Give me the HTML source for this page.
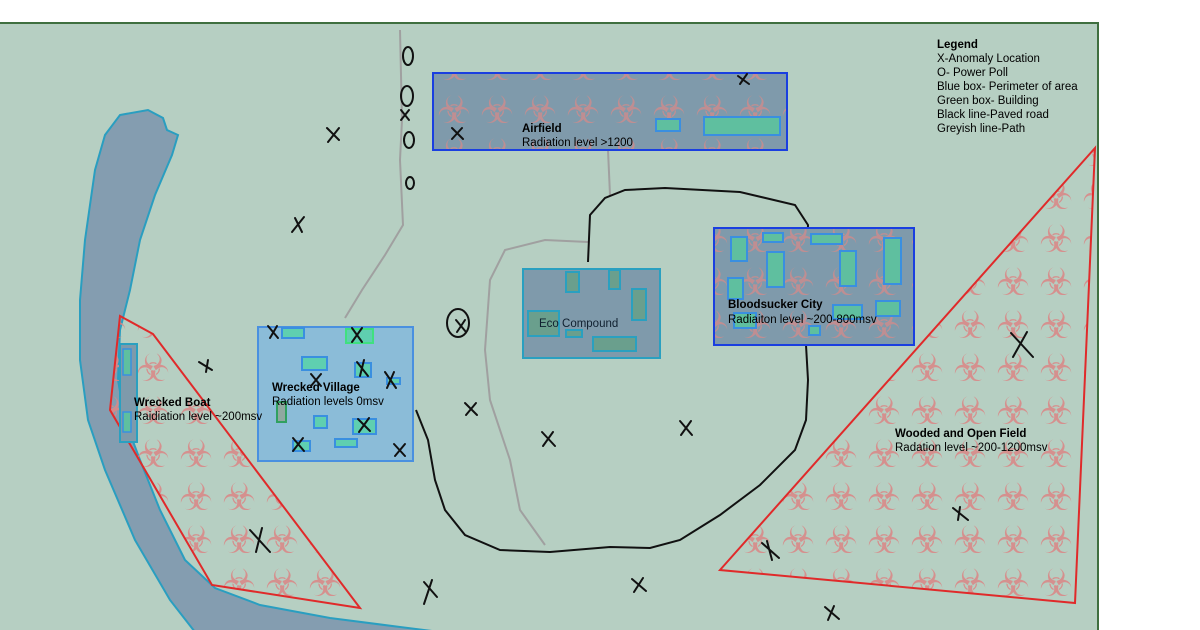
<!DOCTYPE html>
<html><head><meta charset="utf-8"><style>
html,body{margin:0;padding:0;background:#fff;}
svg{display:block;font-family:"Liberation Sans",sans-serif;}
</style></head><body>
<svg width="1200" height="630" viewBox="0 0 1200 630" xmlns="http://www.w3.org/2000/svg">
<defs>
<pattern id="bio" x="0" y="0" width="43" height="43" patternUnits="userSpaceOnUse">
<text x="24" y="37" text-anchor="middle" font-family="DejaVu Sans" font-size="38" fill="#d88a88" opacity="0.9">☣</text>
</pattern>
</defs>
<rect x="0" y="22" width="1098" height="608" fill="#b6cfc2"/>
<line x1="0" y1="23" x2="1098" y2="23" stroke="#3f6f3f" stroke-width="2"/>
<line x1="1098" y1="22" x2="1098" y2="630" stroke="#3f6f3f" stroke-width="2"/>

<path d="M120,115 L148,110 L163,118 L167,130 L178,135 L172,155 L155,195 L140,240 L130,290 L120,330 L118,380 L125,420 L140,460 L160,510 L185,560 L215,588 L260,605 L330,618 L400,627 L440,632 L195,632 L170,600 L135,540 L105,470 L88,420 L80,360 L80,300 L85,240 L95,170 L105,135 Z" fill="#849db0" stroke="#2a9ec0" stroke-width="2"/>

<polygon points="120,316 153,334 360,608 212,585 110,410" fill="url(#bio)" stroke="#e02a2a" stroke-width="2"/>
<rect x="120" y="344" width="17" height="98" fill="#7e9aab" stroke="#2aa0c0" stroke-width="2"/>
<rect x="123" y="349" width="8" height="26" fill="#5fbf9f" stroke="#3a8fe0" stroke-width="1.5"/>
<rect x="123" y="412" width="8" height="20" fill="#5fbf9f" stroke="#3a8fe0" stroke-width="1.5"/>

<polygon points="720,570 1095,148 1075,603" fill="url(#bio)" stroke="#e02a2a" stroke-width="2"/>

<g fill="none" stroke="#a0a0a0" stroke-width="2">
<path d="M400,30 L402,120 L400,160 L403,225 L385,255 L362,290 L345,318"/>
<path d="M608,150 L610,195"/>
<path d="M588,242 L545,240 L505,250 L490,280 L485,350 L490,400 L510,460 L520,510 L545,545"/>
</g>
<path d="M588,262 L590,215 L605,198 L625,190 L665,188 L740,192 L795,205 L808,225 L806,300 L806,345 L808,380 L806,420 L795,450 L760,485 L720,515 L680,540 L650,548 L610,547 L550,552 L500,550 L465,535 L445,510 L435,480 L428,440 L416,410" fill="none" stroke="#111" stroke-width="2"/>

<rect x="433" y="73" width="354" height="77" fill="#7f9aab"/>
<rect x="433" y="73" width="354" height="77" fill="url(#bio)" opacity="0.8"/>
<rect x="433" y="73" width="354" height="77" fill="none" stroke="#1a3fe0" stroke-width="2"/>
<rect x="656" y="119" width="24" height="12" fill="#5fbf9f" stroke="#3a8fe0" stroke-width="2"/>
<rect x="704" y="117" width="76" height="18" fill="#5fbf9f" stroke="#3a8fe0" stroke-width="2"/>
<text x="522" y="132" font-size="11.5" font-weight="bold" fill="#000">Airfield</text>
<text x="522" y="146" font-size="11.5" fill="#000">Radiation level &gt;1200</text>

<rect x="523" y="269" width="137" height="89" fill="#7f9aab" stroke="#2aa0c0" stroke-width="2"/>
<g fill="#6a9f8d" stroke="#2aa0c0" stroke-width="2">
<rect x="566" y="272" width="13" height="20"/><rect x="609" y="270" width="11" height="19"/>
<rect x="632" y="289" width="14" height="31"/><rect x="528" y="311" width="31" height="25"/>
<rect x="566" y="330" width="16" height="7"/><rect x="593" y="337" width="43" height="14"/>
</g>
<text x="539" y="327" font-size="11.5" fill="#102030">Eco Compound</text>

<rect x="714" y="228" width="200" height="117" fill="#7f9aab"/>
<rect x="714" y="228" width="200" height="117" fill="url(#bio)" opacity="0.8"/>
<rect x="714" y="228" width="200" height="117" fill="none" stroke="#1a3fe0" stroke-width="2"/>
<g fill="#5fbf9f" stroke="#3a8fe0" stroke-width="2">
<rect x="731" y="237" width="16" height="24"/><rect x="763" y="233" width="20" height="9"/>
<rect x="811" y="234" width="31" height="10"/><rect x="767" y="252" width="17" height="35"/>
<rect x="840" y="251" width="16" height="35"/><rect x="884" y="238" width="17" height="46"/>
<rect x="728" y="278" width="15" height="21"/><rect x="833" y="305" width="29" height="14"/>
<rect x="876" y="301" width="24" height="15"/><rect x="809" y="326" width="11" height="9"/>
<rect x="734" y="313" width="22" height="15"/>
</g>
<text x="728" y="308" font-size="11.5" font-weight="bold" fill="#000">Bloodsucker City</text>
<text x="728" y="323" font-size="11.5" fill="#000">Radiaiton level ~200-800msv</text>

<rect x="258" y="327" width="155" height="134" fill="#8bbcd8" stroke="#4a90e0" stroke-width="2"/>
<g fill="#5fcfb0" stroke="#3a8fe0" stroke-width="2">
<rect x="282" y="328" width="22" height="10"/><rect x="302" y="357" width="25" height="13"/>
<rect x="355" y="363" width="16" height="14"/><rect x="387" y="378" width="13" height="6"/>
<rect x="314" y="416" width="13" height="12"/><rect x="353" y="419" width="23" height="15"/>
<rect x="335" y="439" width="22" height="8"/><rect x="293" y="441" width="17" height="10"/>
</g>
<rect x="346" y="329" width="27" height="14" fill="#5fcfb0" stroke="#40e080" stroke-width="2"/>
<rect x="277" y="402" width="9" height="20" fill="#90a8a0" stroke="#30a060" stroke-width="2"/>
<text x="272" y="391" font-size="11.5" font-weight="bold" fill="#000">Wrecked Village</text>
<text x="272" y="405" font-size="11.5" fill="#000">Radiation levels 0msv</text>

<text x="134" y="406" font-size="11.5" font-weight="bold" fill="#000">Wrecked Boat</text>
<text x="134" y="420" font-size="11.5" fill="#000">Raidiation level ~200msv</text>
<text x="895" y="437" font-size="11.5" font-weight="bold" fill="#000">Wooded and Open Field</text>
<text x="895" y="451" font-size="11.5" fill="#000">Radation level ~200-1200msv</text>

<g fill="none" stroke="#111" stroke-width="2">
<ellipse cx="408" cy="56" rx="5" ry="9"/>
<ellipse cx="407" cy="96" rx="6" ry="10"/>
<ellipse cx="409" cy="140" rx="5" ry="8"/>
<ellipse cx="410" cy="183" rx="4" ry="6"/>
<ellipse cx="458" cy="323" rx="11" ry="14"/>
</g>

<!-- X marks (hand drawn crosses) -->
<g fill="none" stroke="#111" stroke-width="2" stroke-linecap="round">
<path d="M327,128 L339,140 M339,128 L328,142"/>
<path d="M292,232 L304,217 M295,218 L302,232"/>
<path d="M738,76 L749,84 M747,74 L740,84"/>
<path d="M452,128 L463,139 M462,128 L452,139"/>
<path d="M199,362 L212,370 M208,360 L206,372"/>
<path d="M268,326 L278,338 M277,326 L270,338"/>
<path d="M352,328 L362,342 M362,328 L352,342"/>
<path d="M357,362 L368,376 M364,360 L360,376"/>
<path d="M311,374 L321,386 M321,374 L311,386"/>
<path d="M385,372 L396,388 M394,372 L387,388"/>
<path d="M358,419 L370,431 M369,418 L359,432"/>
<path d="M293,438 L304,451 M303,438 L293,451"/>
<path d="M394,444 L405,456 M405,444 L395,456"/>
<path d="M465,403 L477,415 M476,403 L466,415"/>
<path d="M542,432 L555,446 M553,432 L543,446"/>
<path d="M680,421 L692,435 M691,421 L681,435"/>
<path d="M1011,333 L1033,357 M1027,332 L1013,357"/>
<path d="M953,508 L968,520 M960,507 L958,520"/>
<path d="M762,543 L779,558 M767,541 L772,560"/>
<path d="M632,579 L646,591 M643,578 L634,592"/>
<path d="M424,582 L437,597 M432,580 L424,604"/>
<path d="M825,607 L839,619 M834,606 L828,620"/>
<path d="M250,530 L270,552 M262,528 L256,552"/>
<path d="M401,110 L409,120 M409,110 L401,120"/>
<path d="M456,320 L466,332 M465,320 L457,332"/>
</g>

<g font-size="11.5" fill="#000">
<text x="937" y="48" font-weight="bold">Legend</text>
<text x="937" y="62">X-Anomaly Location</text>
<text x="937" y="76">O- Power Poll</text>
<text x="937" y="90">Blue box- Perimeter of area</text>
<text x="937" y="104">Green box- Building</text>
<text x="937" y="118">Black line-Paved road</text>
<text x="937" y="132">Greyish line-Path</text>
</g>
</svg>
</body></html>
